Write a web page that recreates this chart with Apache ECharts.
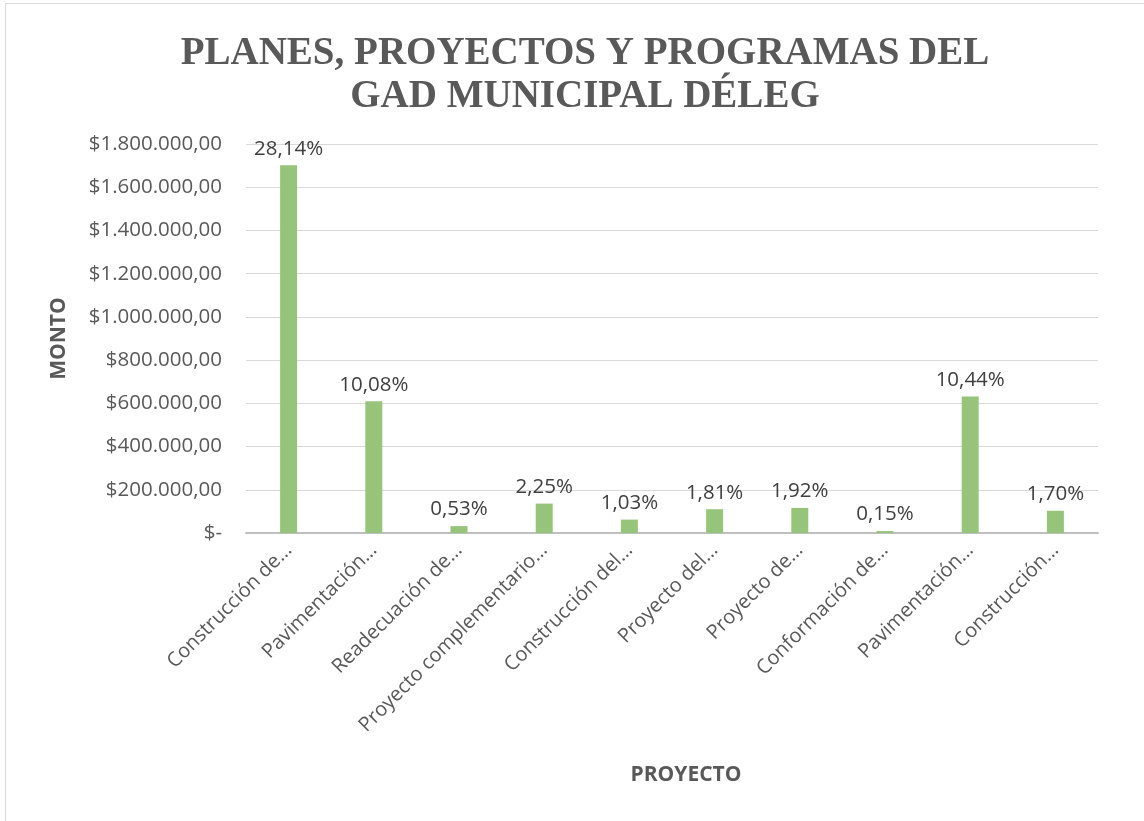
<!DOCTYPE html>
<html>
<head>
<meta charset="utf-8">
<script src="https://cdn.jsdelivr.net/npm/echarts@6/dist/echarts.min.js"></script>
<style>
    html, body { margin: 0; padding: 0; background: #fff; }
    .frame { position: absolute; left: 5px; top: 3px; width: 1160px; height: 840px; border: 1px solid #d9d9d9; box-sizing: border-box; }
    .char { position: absolute; left: 0; top: 0; width: 1144px; height: 821px; }
</style>
</head>
<body>
<div class="frame"></div>
<div class="char"></div>
<script>
// datos del gráfico
const proyectos = ['Construcción de…', 'Pavimentación…', 'Readecuación de…', 'Proyecto complementario…', 'Construcción del…',
    'Proyecto del…', 'Proyecto de…', 'Conformación de…', 'Pavimentación…', 'Construcción…'];
const montos = [1702000, 610000, 32000, 136000, 62000, 110000, 116000, 9000, 632000, 103000];
const porcentajes = ['28,14%', '10,08%', '0,53%', '2,25%', '1,03%', '1,81%', '1,92%', '0,15%', '10,44%', '1,70%'];

(function () {
    let myChart = echarts.init(document.querySelector('.char'));
    // formato contable: $1.800.000,00
    function formatoMonto(v) {
        if (v === 0) return '$-';
        let s = String(Math.round(v)).replace(/\B(?=(\d{3})+(?!\d))/g, '.');
        return '$' + s + ',00';
    }
    let option = {
        title: {
            text: 'PLANES, PROYECTOS Y PROGRAMAS DEL\nGAD MUNICIPAL DÉLEG',
            left: 580,
            textAlign: 'center',
            top: 27,
            textStyle: {
                fontFamily: 'Liberation Serif',
                fontWeight: 'bold',
                fontSize: 39,
                lineHeight: 43,
                color: '#595959'
            }
        },
        grid: {
            left: 246,
            right: 46,
            top: 144,
            bottom: 288,
            containLabel: false
        },
        xAxis: {
            type: 'category',
            data: proyectos,
            name: 'PROYECTO',
            nameLocation: 'middle',
            nameGap: 232,
            nameTextStyle: {
                fontFamily: 'Open Sans',
                fontWeight: 'bold',
                fontSize: 21,
                color: '#595959',
                padding: [0, 0, 0, 28]
            },
            axisTick: { show: false },
            axisLine: { lineStyle: { color: '#bfbfbf', width: 2 } },
            axisLabel: {
                rotate: 45,
                interval: 0,
                margin: 14,
                fontFamily: 'Open Sans',
                fontSize: 20,
                color: '#595959'
            }
        },
        yAxis: {
            type: 'value',
            min: 0,
            max: 1800000,
            interval: 200000,
            name: 'MONTO',
            nameLocation: 'middle',
            nameRotate: 90,
            nameGap: 176,
            nameTextStyle: {
                fontFamily: 'Open Sans',
                fontWeight: 'bold',
                fontSize: 21,
                color: '#595959'
            },
            axisLine: { show: false },
            axisTick: { show: false },
            axisLabel: {
                margin: 24,
                fontFamily: 'Open Sans',
                fontSize: 20.5,
                color: '#595959',
                formatter: formatoMonto
            },
            splitLine: { lineStyle: { color: '#d9d9d9', width: 1 } }
        },
        series: [{
            name: 'Monto',
            type: 'bar',
            data: montos,
            barWidth: 17,
            itemStyle: { color: '#97c47b' },
            label: {
                show: true,
                position: 'top',
                distance: 6,
                fontFamily: 'Open Sans',
                fontSize: 20.5,
                color: '#404040',
                formatter: function (p) { return porcentajes[p.dataIndex]; }
            }
        }]
    };
    myChart.setOption(option);
    window.addEventListener('resize', function () {
        myChart.resize();
    })
})();
</script>
</body>
</html>
